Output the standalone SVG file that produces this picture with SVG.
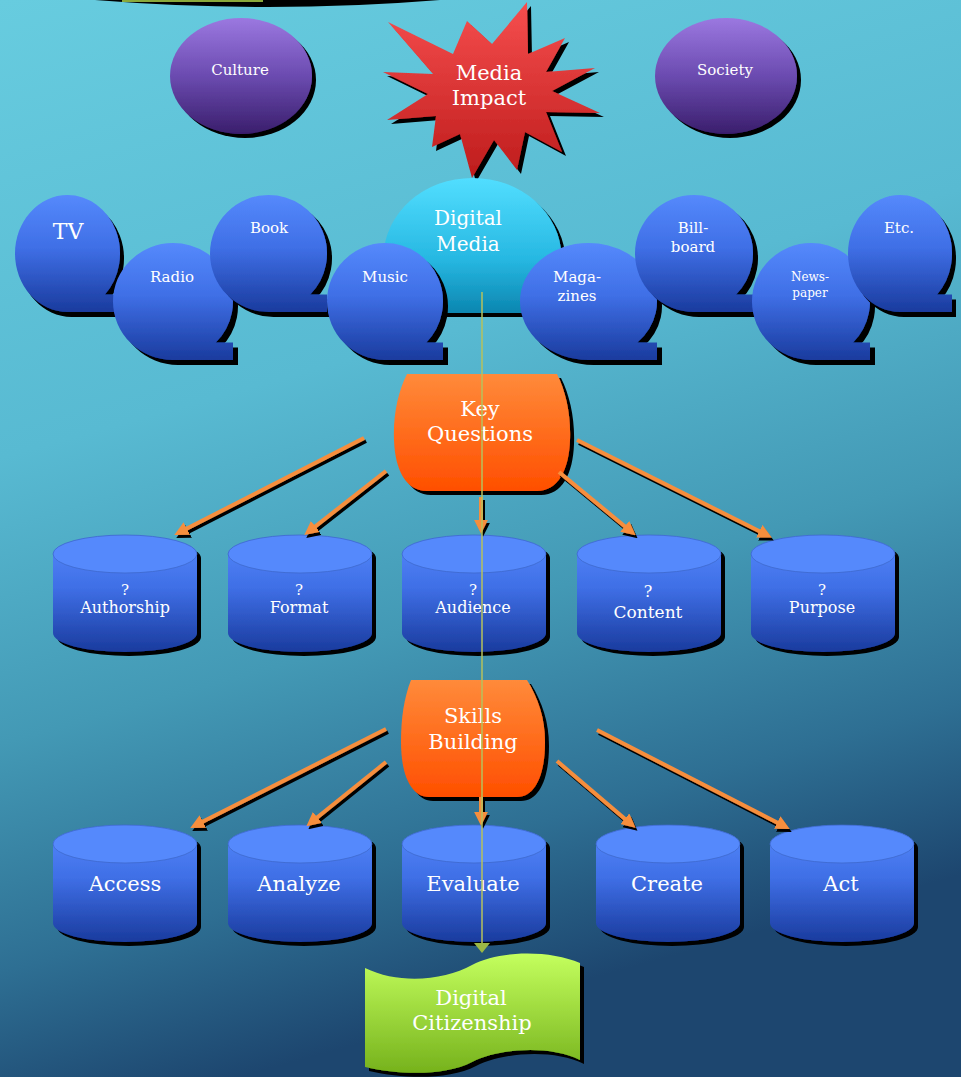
<svg xmlns="http://www.w3.org/2000/svg" xmlns:xlink="http://www.w3.org/1999/xlink" width="961" height="1077" viewBox="0 0 961 1077">
<defs>
<style>
.t{font-family:"DejaVu Serif","Liberation Serif",serif;fill:#ffffff;text-anchor:middle;}
.arr{stroke:#f68e3e;stroke-width:4;fill:none;marker-end:url(#ah);}
</style>
<linearGradient id="bg" x1="0" y1="0" x2="0.25" y2="1">
<stop offset="0" stop-color="#67ccdf"/>
<stop offset="0.4" stop-color="#58bad2"/>
<stop offset="0.65" stop-color="#4399b5"/>
<stop offset="0.85" stop-color="#2e6f93"/>
<stop offset="1" stop-color="#1d466f"/>
</linearGradient>
<linearGradient id="gBlue" x1="0" y1="0" x2="0" y2="1">
<stop offset="0" stop-color="#5589fc"/>
<stop offset="0.45" stop-color="#3f6fe6"/>
<stop offset="1" stop-color="#1a3b9e"/>
</linearGradient>
<linearGradient id="gPurple" x1="0" y1="0" x2="0" y2="1">
<stop offset="0" stop-color="#9b78e0"/>
<stop offset="0.5" stop-color="#6b4bb0"/>
<stop offset="1" stop-color="#3a1e6c"/>
</linearGradient>
<linearGradient id="gRed" x1="0" y1="0" x2="0" y2="1">
<stop offset="0" stop-color="#f64e4e"/>
<stop offset="1" stop-color="#be1c1c"/>
</linearGradient>
<linearGradient id="gCyan" x1="0" y1="0" x2="0" y2="1">
<stop offset="0" stop-color="#52deff"/>
<stop offset="0.6" stop-color="#27b8e2"/>
<stop offset="1" stop-color="#0b86b0"/>
</linearGradient>
<linearGradient id="gOrange" x1="0" y1="0" x2="0" y2="1">
<stop offset="0" stop-color="#ff8a3a"/>
<stop offset="1" stop-color="#ff4f00"/>
</linearGradient>
<linearGradient id="gGreen" x1="0" y1="0" x2="0" y2="1">
<stop offset="0" stop-color="#c4ff5e"/>
<stop offset="1" stop-color="#76b21c"/>
</linearGradient>
<filter id="sh" x="-10%" y="-10%" width="130%" height="130%">
<feOffset in="SourceAlpha" dx="4" dy="4" result="o"/>
<feMerge><feMergeNode in="o"/><feMergeNode in="SourceGraphic"/></feMerge>
</filter>
<filter id="sh2" x="-10%" y="-10%" width="130%" height="130%">
<feOffset in="SourceAlpha" dx="2" dy="3" result="o"/>
<feMerge><feMergeNode in="o"/><feMergeNode in="SourceGraphic"/></feMerge>
</filter>
<marker id="ah" viewBox="0 0 10 10" refX="3" refY="5" markerWidth="3.5" markerHeight="3.5" orient="auto">
<path d="M0,0 L10,5 L0,10 Z" fill="#f68e3e"/>
</marker>
<path id="bub" d="M50,0 A50,50 0 0 1 85.7,85 L100,85 L100,100 L50,100 A50,50 0 0 1 0,50 A50,50 0 0 1 50,0 Z"/>
<path id="cylBody" d="M0,19 A72,19 0 0 1 144,19 L144,98 A72,19 0 0 1 0,98 Z"/>
<ellipse id="cylTop" cx="72" cy="19" rx="72" ry="19"/>
</defs>

<rect x="0" y="0" width="961" height="1077" fill="url(#bg)"/>

<g id="top-partial">
<path d="M95,0 Q268,14 440,0 Z" fill="#000000"/>
<rect x="122" y="0" width="141" height="2" fill="#8aa83a"/>
</g>

<g id="culture">
<ellipse cx="241" cy="76" rx="71" ry="58" fill="url(#gPurple)" filter="url(#sh)"/>
<text class="t" x="240" y="75" font-size="15">Culture</text>
</g>
<g id="society">
<ellipse cx="726" cy="76" rx="71" ry="58" fill="url(#gPurple)" filter="url(#sh)"/>
<text class="t" x="725" y="75" font-size="15">Society</text>
</g>

<g id="media-impact">
<path d="M388,22 L453,54 L467,21 L492,44 L527,2 L528,54 L565,38 L546,72 L595,68 L552,91 L600,113 L546,112 L562,152 L525,132 L517,170 L494,140 L472,178 L460,134 L432,147 L436,116 L387,120 L428,94 L383,72 L433,74 Z" fill="url(#gRed)" filter="url(#sh)"/>
<text class="t" x="489" y="80" font-size="21">Media</text>
<text class="t" x="489" y="105" font-size="21">Impact</text>
</g>

<g id="tv">
<use xlink:href="#bub" href="#bub" transform="translate(15,195) scale(1.05,1.17)" fill="url(#gBlue)" filter="url(#sh)"/>
<text class="t" x="68" y="239" font-size="22">TV</text>
</g>
<g id="radio">
<use xlink:href="#bub" href="#bub" transform="translate(113,243) scale(1.2,1.17)" fill="url(#gBlue)" filter="url(#sh)"/>
<text class="t" x="172" y="282" font-size="15">Radio</text>
</g>
<g id="book">
<use xlink:href="#bub" href="#bub" transform="translate(210,195) scale(1.17,1.17)" fill="url(#gBlue)" filter="url(#sh)"/>
<text class="t" x="269" y="233" font-size="15">Book</text>
</g>

<g id="digital-media">
<path d="M408,313 A89,80 0 1 1 537,313 Z" fill="url(#gCyan)" filter="url(#sh)"/>
<text class="t" x="468" y="225" font-size="20">Digital</text>
<text class="t" x="468" y="251" font-size="20">Media</text>
</g>

<g id="music">
<use xlink:href="#bub" href="#bub" transform="translate(327,243) scale(1.16,1.17)" fill="url(#gBlue)" filter="url(#sh)"/>
<text class="t" x="385" y="282" font-size="15">Music</text>
</g>
<g id="magazines">
<use xlink:href="#bub" href="#bub" transform="translate(520,243) scale(1.37,1.17)" fill="url(#gBlue)" filter="url(#sh)"/>
<text class="t" x="577" y="282" font-size="15">Maga-</text>
<text class="t" x="577" y="301" font-size="15">zines</text>
</g>
<g id="billboard">
<use xlink:href="#bub" href="#bub" transform="translate(635,195) scale(1.18,1.17)" fill="url(#gBlue)" filter="url(#sh)"/>
<text class="t" x="693" y="233" font-size="15">Bill-</text>
<text class="t" x="693" y="252" font-size="15">board</text>
</g>
<g id="newspaper">
<use xlink:href="#bub" href="#bub" transform="translate(752,243) scale(1.18,1.17)" fill="url(#gBlue)" filter="url(#sh)"/>
<text class="t" x="810" y="281" font-size="12">News-</text>
<text class="t" x="810" y="297" font-size="12">paper</text>
</g>
<g id="etc">
<use xlink:href="#bub" href="#bub" transform="translate(848,195) scale(1.04,1.17)" fill="url(#gBlue)" filter="url(#sh)"/>
<text class="t" x="899" y="233" font-size="15">Etc.</text>
</g>

<g id="key-questions">
<path d="M407,374 L557,374 C566,392 571,415 570,440 C569,470 558,491 537,491 L427,491 C406,491 395,470 394,440 C393,415 398,392 407,374 Z" fill="url(#gOrange)" filter="url(#sh)"/>
<text class="t" x="480" y="416" font-size="21">Key</text>
<text class="t" x="480" y="441" font-size="21">Questions</text>
</g>

<g id="skills-building">
<path d="M411,680 L527,680 C538,698 545,718 545,742 C545,775 535,797 517,797 L429,797 C411,797 401,775 401,742 C401,718 404,698 411,680 Z" fill="url(#gOrange)" filter="url(#sh)"/>
<text class="t" x="473" y="723" font-size="21">Skills</text>
<text class="t" x="473" y="749" font-size="21">Building</text>
</g>

<g id="authorship">
<use href="#cylBody" xlink:href="#cylBody" x="53" y="535" fill="url(#gBlue)" filter="url(#sh)"/>
<use href="#cylTop" xlink:href="#cylTop" x="53" y="535" fill="#5589fc" stroke="#3d68cc" stroke-width="0.8"/>
<text class="t" x="125" y="595" font-size="15">?</text>
<text class="t" x="125" y="613" font-size="16">Authorship</text>
</g>
<g id="format">
<use href="#cylBody" xlink:href="#cylBody" x="228" y="535" fill="url(#gBlue)" filter="url(#sh)"/>
<use href="#cylTop" xlink:href="#cylTop" x="228" y="535" fill="#5589fc" stroke="#3d68cc" stroke-width="0.8"/>
<text class="t" x="299" y="595" font-size="15">?</text>
<text class="t" x="299" y="613" font-size="16">Format</text>
</g>
<g id="audience">
<use href="#cylBody" xlink:href="#cylBody" x="402" y="535" fill="url(#gBlue)" filter="url(#sh)"/>
<use href="#cylTop" xlink:href="#cylTop" x="402" y="535" fill="#5589fc" stroke="#3d68cc" stroke-width="0.8"/>
<text class="t" x="473" y="595" font-size="15">?</text>
<text class="t" x="473" y="613" font-size="16">Audience</text>
</g>
<g id="content">
<use href="#cylBody" xlink:href="#cylBody" x="577" y="535" fill="url(#gBlue)" filter="url(#sh)"/>
<use href="#cylTop" xlink:href="#cylTop" x="577" y="535" fill="#5589fc" stroke="#3d68cc" stroke-width="0.8"/>
<text class="t" x="648" y="597" font-size="16">?</text>
<text class="t" x="648" y="618" font-size="17">Content</text>
</g>
<g id="purpose">
<use href="#cylBody" xlink:href="#cylBody" x="751" y="535" fill="url(#gBlue)" filter="url(#sh)"/>
<use href="#cylTop" xlink:href="#cylTop" x="751" y="535" fill="#5589fc" stroke="#3d68cc" stroke-width="0.8"/>
<text class="t" x="822" y="595" font-size="15">?</text>
<text class="t" x="822" y="613" font-size="16">Purpose</text>
</g>

<g id="access">
<use href="#cylBody" xlink:href="#cylBody" x="53" y="825" fill="url(#gBlue)" filter="url(#sh)"/>
<use href="#cylTop" xlink:href="#cylTop" x="53" y="825" fill="#5589fc" stroke="#3d68cc" stroke-width="0.8"/>
<text class="t" x="125" y="891" font-size="21">Access</text>
</g>
<g id="analyze">
<use href="#cylBody" xlink:href="#cylBody" x="228" y="825" fill="url(#gBlue)" filter="url(#sh)"/>
<use href="#cylTop" xlink:href="#cylTop" x="228" y="825" fill="#5589fc" stroke="#3d68cc" stroke-width="0.8"/>
<text class="t" x="299" y="891" font-size="21">Analyze</text>
</g>
<g id="evaluate">
<use href="#cylBody" xlink:href="#cylBody" x="402" y="825" fill="url(#gBlue)" filter="url(#sh)"/>
<use href="#cylTop" xlink:href="#cylTop" x="402" y="825" fill="#5589fc" stroke="#3d68cc" stroke-width="0.8"/>
<text class="t" x="473" y="891" font-size="21">Evaluate</text>
</g>
<g id="create">
<use href="#cylBody" xlink:href="#cylBody" x="596" y="825" fill="url(#gBlue)" filter="url(#sh)"/>
<use href="#cylTop" xlink:href="#cylTop" x="596" y="825" fill="#5589fc" stroke="#3d68cc" stroke-width="0.8"/>
<text class="t" x="667" y="891" font-size="21">Create</text>
</g>
<g id="act">
<use href="#cylBody" xlink:href="#cylBody" x="770" y="825" fill="url(#gBlue)" filter="url(#sh)"/>
<use href="#cylTop" xlink:href="#cylTop" x="770" y="825" fill="#5589fc" stroke="#3d68cc" stroke-width="0.8"/>
<text class="t" x="841" y="891" font-size="21">Act</text>
</g>

<g id="digital-citizenship">
<path d="M365,968 C400,985 445,980 472,965 C500,950 550,950 580,963 L580,1060 C550,1045 500,1048 472,1062 C445,1076 400,1075 365,1067 Z" fill="url(#gGreen)" filter="url(#sh)"/>
<text class="t" x="471" y="1005" font-size="21">Digital</text>
<text class="t" x="472" y="1030" font-size="21">Citizenship</text>
</g>

<g id="connectors">
<g filter="url(#sh2)">
<line class="arr" x1="364" y1="438" x2="183" y2="530.5"/>
<line class="arr" x1="386" y1="471" x2="312" y2="529"/>
<line class="arr" x1="481" y1="497" x2="481" y2="524"/>
<line class="arr" x1="559" y1="472" x2="628" y2="529"/>
<line class="arr" x1="577" y1="440" x2="763" y2="533"/>
<line class="arr" x1="386" y1="729" x2="199" y2="823.5"/>
<line class="arr" x1="386" y1="762" x2="314" y2="820"/>
<line class="arr" x1="481" y1="797" x2="481" y2="816"/>
<line class="arr" x1="557" y1="761" x2="628" y2="821.5"/>
<line class="arr" x1="597" y1="730" x2="781" y2="824.5"/>
</g>
<line x1="482" y1="292" x2="482" y2="944" stroke="#b6c25c" stroke-width="1.5"/>
<polygon points="474,943 490,943 482,953" fill="#9cb845"/>
</g>
</svg>
